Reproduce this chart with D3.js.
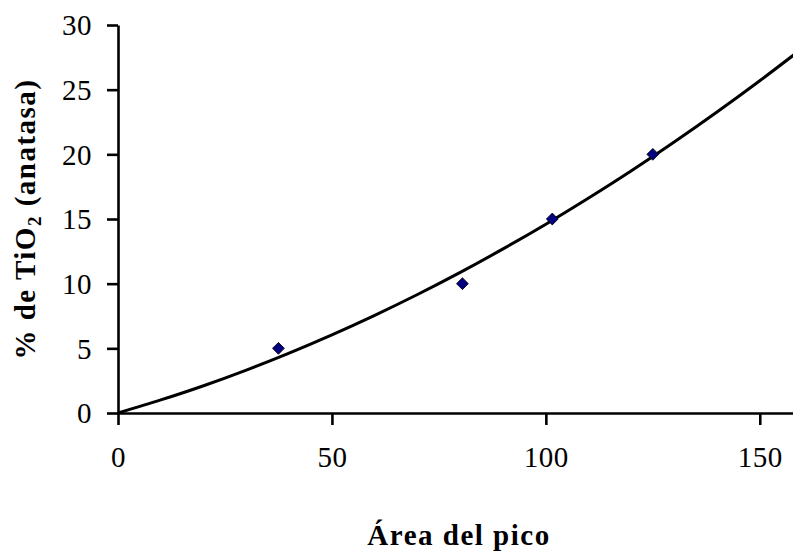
<!DOCTYPE html>
<html>
<head>
<meta charset="utf-8">
<script src="https://cdn.jsdelivr.net/npm/d3@7"></script>
<style>
  html, body { margin: 0; padding: 0; background: #fff; }
  svg { display: block; }
  text { font-family: "Palatino Linotype", "Book Antiqua", Palatino, "Liberation Serif", "DejaVu Serif", serif; }
</style>
</head>
<body>
<svg id="chart" width="793" height="551"></svg>
<script>
// Data points (Área del pico, % de TiO2)
const areaValues = [37.5, 80.5, 101.5, 125];
const pctValues = [5, 10, 15, 20];
// Trendline
const trendX = [0, 10, 20, 30, 40, 50, 60, 70, 80, 90, 100, 110, 120, 130, 140, 150, 158];
const trendY = [0, 1.01, 2.11, 3.32, 4.63, 6.04, 7.55, 9.16, 10.87, 12.69, 14.6, 16.62, 18.73, 20.95, 23.27, 25.69, 27.7];
// Ticks
const xTicks = [0, 50, 100, 150];
const yTicks = [0, 5, 10, 15, 20, 25, 30];
const xTitle = "Área del pico";

const svg = d3.select("#chart");
const mLeft = 118, mRight = 794, mTop = 25, mBottom = 413;

const x = d3.scaleLinear().domain([0, 158]).range([mLeft, mRight]);
const y = d3.scaleLinear().domain([0, 30]).range([mBottom, mTop]);

// Axes
const xAxis = svg.append("g").attr("transform", `translate(0,${mBottom})`)
  .call(d3.axisBottom(x).tickValues(xTicks).tickSizeInner(12).tickSizeOuter(0).tickPadding(36).tickFormat(d3.format("d")));
const yAxis = svg.append("g").attr("transform", `translate(${mLeft},0)`)
  .call(d3.axisLeft(y).tickValues(yTicks).tickSizeInner(11).tickSizeOuter(0).tickPadding(15).tickFormat(d3.format("d")));

[xAxis, yAxis].forEach(g => {
  g.select(".domain").attr("stroke", "#000").attr("stroke-width", 2.6);
  g.selectAll(".tick line").attr("stroke", "#000").attr("stroke-width", 2.6);
  g.selectAll(".tick text").attr("fill", "#000").style("font-size", "29px")
    .style("letter-spacing", "0.5px")
    .style("font-family", '"Palatino Linotype", "Book Antiqua", Palatino, "Liberation Serif", serif');
});
xAxis.selectAll(".tick text").attr("dy", "0.2em");
yAxis.selectAll(".tick text").attr("dy", "0.34em");

// Trendline
const line = d3.line().x(d => x(d[0])).y(d => y(d[1])).curve(d3.curveCatmullRom);
svg.append("path")
  .datum(trendX.map((v, i) => [v, trendY[i]]))
  .attr("d", line)
  .attr("fill", "none")
  .attr("stroke", "#000")
  .attr("stroke-width", 3);

// Markers (diamonds)
const sym = d3.symbol().type(d3.symbolSquare).size(70);
svg.append("g").selectAll("path")
  .data(areaValues.map((v, i) => [v, pctValues[i]]))
  .join("path")
  .attr("d", sym)
  .attr("transform", d => `translate(${x(d[0])},${y(d[1])}) rotate(45)`)
  .attr("fill", "#000080")
  .attr("stroke", "#000")
  .attr("stroke-width", 0.8);

// Axis titles
svg.append("text")
  .attr("x", 459).attr("y", 545)
  .attr("text-anchor", "middle")
  .style("font-size", "29px").style("font-weight", "bold")
  .style("letter-spacing", "1.5px")
  .text(xTitle);

const yt = svg.append("text")
  .attr("transform", `translate(35,219) rotate(-90)`)
  .attr("text-anchor", "middle")
  .style("font-size", "29px").style("font-weight", "bold")
  .style("letter-spacing", "1.5px");
yt.append("tspan").text("% de TiO");
yt.append("tspan").text("2").style("font-size", "19px").attr("dy", "6");
yt.append("tspan").text(" (anatasa)").attr("dy", "-6");
</script>
</body>
</html>
